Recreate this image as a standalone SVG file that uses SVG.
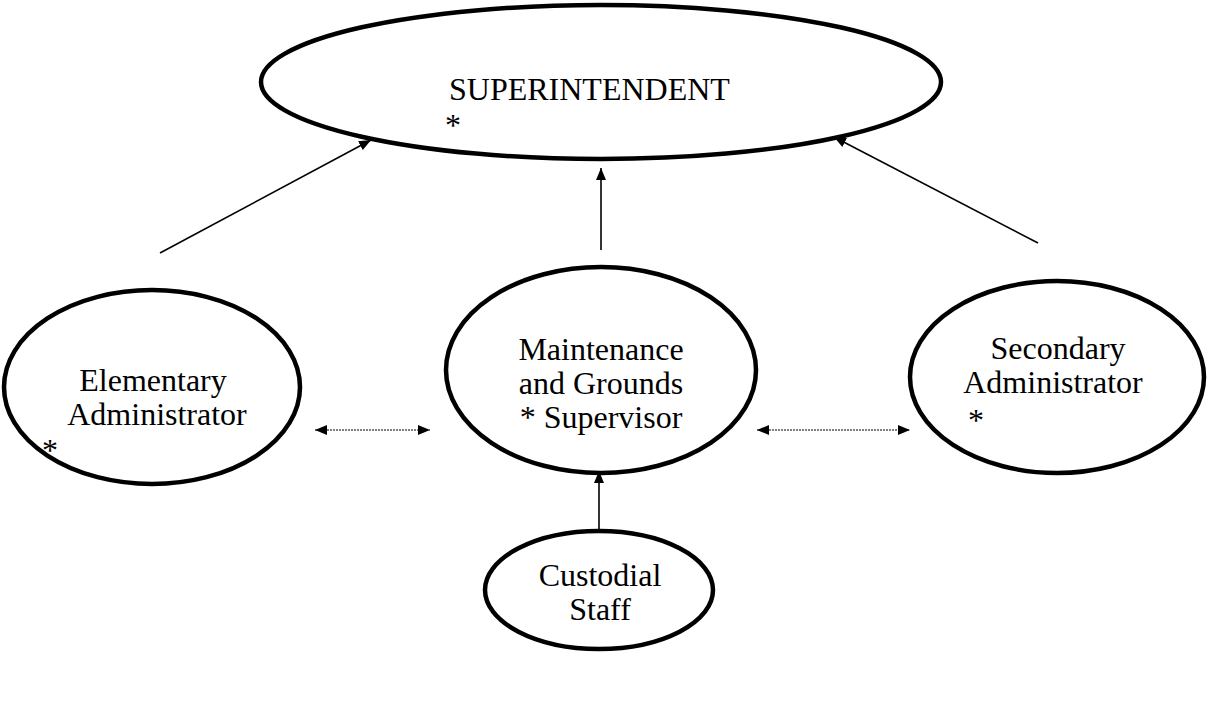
<svg xmlns="http://www.w3.org/2000/svg" width="1212" height="704" viewBox="0 0 1212 704">
<style>
.node{fill:#fff;stroke:#000;stroke-width:4.5}
.t{font-family:'Liberation Serif','Times New Roman',serif;font-size:32px;fill:#000}
.c{text-anchor:middle}
.solid{stroke:#000;stroke-width:1.6;fill:none}
.dot{stroke:#000;stroke-width:1;stroke-dasharray:2 1;fill:none}
</style>
<defs>
<marker id="ah" viewBox="0 0 12 10" refX="12" refY="5" markerWidth="12" markerHeight="10" markerUnits="userSpaceOnUse" orient="auto-start-reverse">
<path d="M0,0 L12,5 L0,10 Z" fill="#000"/>
</marker>
</defs>
<rect width="1212" height="704" fill="#fff"/>
<g id="superintendent">
<ellipse class="node" cx="601" cy="82" rx="340" ry="77"/>
<text class="t" x="449" y="100">SUPERINTENDENT</text>
<text class="t" x="445" y="136">*</text>
</g>
<g id="elementary">
<ellipse class="node" cx="152" cy="387" rx="148" ry="97"/>
<text class="t c" x="153" y="391">Elementary</text>
<text class="t c" x="157" y="425">Administrator</text>
<text class="t" x="42" y="461">*</text>
</g>
<g id="maintenance">
<ellipse class="node" cx="601" cy="370" rx="155" ry="103"/>
<text class="t c" x="601" y="360">Maintenance</text>
<text class="t c" x="601" y="394">and Grounds</text>
<text class="t c" x="601" y="428">* Supervisor</text>
</g>
<g id="secondary">
<ellipse class="node" cx="1057" cy="377" rx="147" ry="96"/>
<text class="t c" x="1058" y="359">Secondary</text>
<text class="t c" x="1053" y="393">Administrator</text>
<text class="t" x="968" y="431">*</text>
</g>
<g id="custodial">
<ellipse class="node" cx="599" cy="590" rx="114" ry="59"/>
<text class="t c" x="600" y="586">Custodial</text>
<text class="t c" x="600" y="620">Staff</text>
</g>
<g id="connectors">
<line class="solid" x1="160" y1="253" x2="371" y2="140" marker-end="url(#ah)"/>
<line class="solid" x1="601" y1="250" x2="601" y2="168" marker-end="url(#ah)"/>
<line class="solid" x1="1038" y1="243" x2="834" y2="137" marker-end="url(#ah)"/>
<line class="solid" x1="599" y1="531" x2="599" y2="471" marker-end="url(#ah)"/>
<line class="dot" x1="315" y1="430" x2="430" y2="430" marker-start="url(#ah)" marker-end="url(#ah)"/>
<line class="dot" x1="757" y1="430" x2="910" y2="430" marker-start="url(#ah)" marker-end="url(#ah)"/>
</g>
</svg>
